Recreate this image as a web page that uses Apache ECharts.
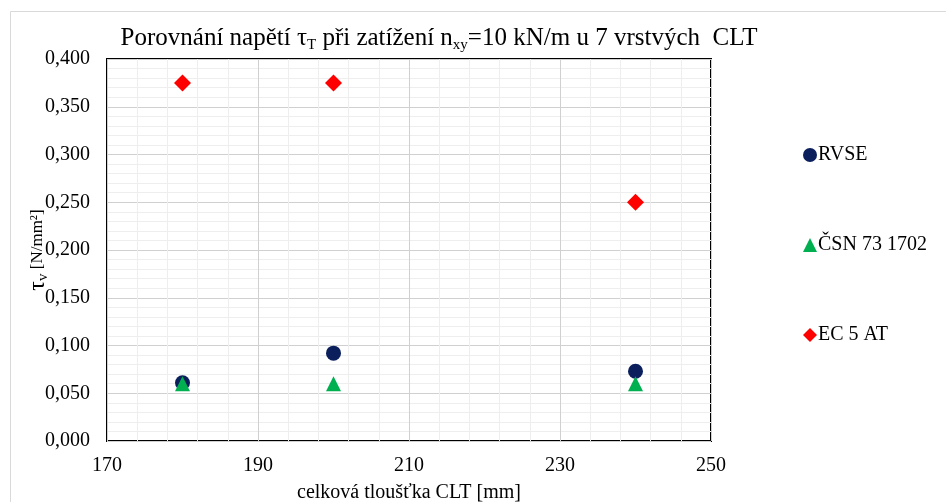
<!DOCTYPE html>
<html>
<head>
<meta charset="utf-8">
<script src="https://cdn.jsdelivr.net/npm/echarts@6/dist/echarts.min.js"></script>
<style>
  html, body { margin: 0; padding: 0; background: #fff; overflow: hidden; }
  #chart { width: 946px; height: 502px; }
</style>
</head>
<body>
<div id="chart"></div>
<script>
// Total CLT thickness [mm]
const thickness = [180, 200, 240];
// Shear stress tau_v [N/mm2] per method
const rvse = [0.061, 0.092, 0.073];
const csn = [0.060, 0.060, 0.060];
const ec5at = [0.375, 0.375, 0.250];
const seriesNames = ['RVSE', 'ČSN 73 1702', 'EC 5 AT'];

const serif = '"Liberation Serif", "DejaVu Serif", serif';
const pairs = ys => thickness.map((x, i) => [x, ys[i]]);

const chart = echarts.init(document.getElementById('chart'));
chart.setOption({
  backgroundColor: '#fff',
  animation: false,
  graphic: [{
    type: 'rect',
    shape: { x: 10.5, y: 11.5, width: 960, height: 520 },
    style: { fill: 'none', stroke: '#d9d9d9', lineWidth: 1 },
    z: -1
  }],
  title: {
    text: '{a|Porovnání napětí τ}{s|T}{a| při zatížení n}{s|xy}{a|=10 kN/m u 7 vrstvých  CLT}',
    left: 434,
    textAlign: 'center',
    top: 19,
    textStyle: {
      fontWeight: 'normal',
      rich: {
        a: { fontFamily: serif, fontSize: 25, fontWeight: 'normal', color: '#000' },
        s: { fontFamily: serif, fontSize: 15, fontWeight: 'normal', color: '#000', verticalAlign: 'bottom', padding: [14, 0, 0, 0] }
      }
    }
  },
  legend: {
    orient: 'vertical',
    left: 798,
    top: 140,
    itemWidth: 14,
    itemHeight: 14,
    itemGap: 70,
    data: seriesNames,
    textStyle: { fontFamily: serif, fontSize: 20, color: '#000', padding: [0, 0, 0, -4] }
  },
  grid: {
    left: 107, width: 604, top: 59, height: 382,
    outerBoundsMode: 'none',
    containLabel: false,
    show: true,
    borderColor: '#000',
    borderWidth: 2
  },
  xAxis: {
    type: 'value',
    min: 170, max: 250, interval: 20,
    name: 'celková tloušťka CLT [mm]',
    nameLocation: 'middle',
    nameGap: 42,
    nameTextStyle: { fontFamily: serif, fontSize: 20, color: '#000' },
    axisLine: { show: false },
    axisTick: { show: false },
    axisLabel: { fontFamily: serif, fontSize: 20, color: '#000', margin: 15 },
    splitLine: { show: true, lineStyle: { color: '#d0d0d0', width: 1 } },
    minorTick: { show: false, splitNumber: 5 },
    minorSplitLine: { show: true, lineStyle: { color: '#eeeeee', width: 1 } }
  },
  yAxis: {
    type: 'value',
    min: 0, max: 0.4, interval: 0.05,
    name: '{t|τ}{s|v}{u| [N/mm²]}',
    nameLocation: 'middle',
    nameGap: 56,
    nameMoveOverlap: false,
    nameRotate: 90,
    nameTextStyle: {
      rich: {
        t: { fontFamily: serif, fontSize: 24, color: '#000' },
        s: { fontFamily: serif, fontSize: 15, color: '#000', verticalAlign: 'bottom', padding: [11, 0, 0, 0] },
        u: { fontFamily: serif, fontSize: 17, color: '#000' }
      }
    },
    axisLine: { show: false },
    axisTick: { show: false },
    axisLabel: {
      fontFamily: serif, fontSize: 20, color: '#000', margin: 17,
      formatter: v => v.toFixed(3).replace('.', ',')
    },
    splitLine: { show: true, lineStyle: { color: '#d0d0d0', width: 1 } },
    minorTick: { show: false, splitNumber: 5 },
    minorSplitLine: { show: true, lineStyle: { color: '#eeeeee', width: 1 } }
  },
  series: [
    {
      name: seriesNames[0], type: 'scatter', data: pairs(rvse),
      symbol: 'circle', symbolSize: 15,
      itemStyle: { color: '#0b1f5c', opacity: 1 }, z: 3
    },
    {
      name: seriesNames[1], type: 'scatter', data: pairs(csn),
      symbol: 'triangle', symbolSize: 15,
      itemStyle: { color: '#00b050', opacity: 1 }, z: 4
    },
    {
      name: seriesNames[2], type: 'scatter', data: pairs(ec5at),
      symbol: 'diamond', symbolSize: [17, 17],
      itemStyle: { color: '#ff0000', opacity: 1 }, z: 5
    }
  ]
});
</script>
</body>
</html>
